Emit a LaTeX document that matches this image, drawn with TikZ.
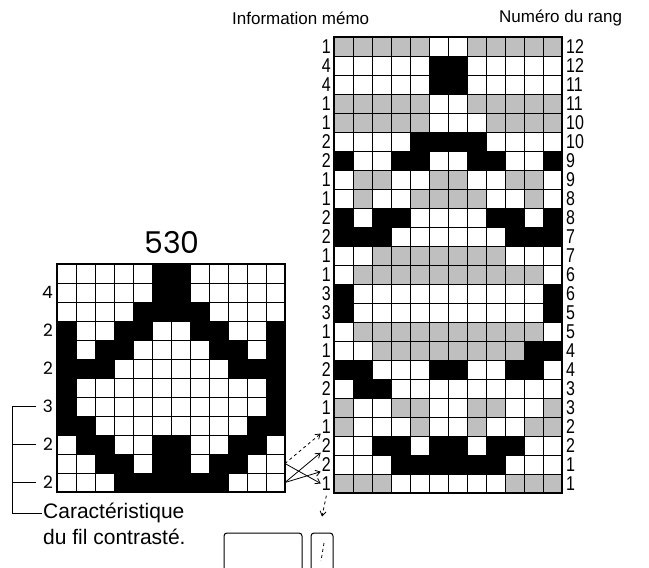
\documentclass[tikz,border=0pt]{standalone}
\usepackage{fontspec}
\setmainfont{Liberation Sans}
\newfontfamily\geofont{Poppins}
\newfontfamily\condfont[FakeStretch=0.8]{Liberation Sans}
\usetikzlibrary{arrows.meta}
\colorlet{cell0}{white}
\colorlet{cell1}{black}
\colorlet{cell2}{black!25}

\begin{document}
\begin{tikzpicture}[x=1pt, y=-1pt,
            >={Straight Barb[length=4.5pt, width=6pt]},
            cellline/.style={line width=1pt},
            frame/.style={line width=1.4pt},
            rownum/.style={font=\condfont\fontsize{20}{20}\selectfont, inner sep=0pt},
            leftnum/.style={font=\geofont\fontsize{17}{17}\selectfont, inner sep=0pt},
            heading/.style={font=\fontsize{17}{17}\selectfont, inner sep=0pt},
            caption/.style={font=\fontsize{21}{21}\selectfont, inner sep=1pt},
            bracket/.style={line width=.8pt},
            arrow/.style={->, line width=.8pt},
            keybox/.style={draw, line width=1pt, rounded corners=3pt,
                minimum height=42pt},
        ]
            \useasboundingbox (0,0) rectangle (649,568);
            \clip (0,0) rectangle (649,568);

            % motif 530
            \begin{scope}[shift={(57,264)}]
                \foreach \rowdata [count=\r from 0] in {
                    {0,0,0,0,0,1,1,0,0,0,0,0},
                    {0,0,0,0,0,1,1,0,0,0,0,0},
                    {0,0,0,0,1,1,1,1,0,0,0,0},
                    {1,0,0,1,1,0,0,1,1,0,0,1},
                    {1,0,1,1,0,0,0,0,1,1,0,1},
                    {1,1,1,0,0,0,0,0,0,1,1,1},
                    {1,0,0,0,0,0,0,0,0,0,0,1},
                    {1,0,0,0,0,0,0,0,0,0,0,1},
                    {1,1,0,0,0,0,0,0,0,0,1,1},
                    {0,1,1,0,0,1,1,0,0,1,1,0},
                    {0,0,1,1,0,1,1,0,1,1,0,0},
                    {0,0,0,1,1,1,1,1,1,0,0,0}}{
                    \foreach \v [count=\c from 0] in \rowdata
                        \fill[cell\v] (\c*19, \r*19) rectangle ++(19,19);
                }
                \foreach \i in {1,...,11} {
                    \draw[cellline] (\i*19, 0) -- (\i*19, 228);
                    \draw[cellline] (0, \i*19) -- (228, \i*19);
                }
                \draw[frame] (0,0) rectangle (228,228);
            \end{scope}

            % information memo
            \begin{scope}[shift={(334,37)}]
                \foreach \rowdata [count=\r from 0] in {
                    {2,2,2,2,2,0,0,2,2,2,2,2},
                    {0,0,0,0,0,1,1,0,0,0,0,0},
                    {0,0,0,0,0,1,1,0,0,0,0,0},
                    {2,2,2,2,2,0,0,2,2,2,2,2},
                    {2,2,2,2,2,0,0,0,2,2,2,2},
                    {0,0,0,0,1,1,1,1,0,0,0,0},
                    {1,0,0,1,1,0,0,1,1,0,0,1},
                    {0,2,2,0,0,2,2,0,0,2,2,0},
                    {0,2,0,0,2,2,2,2,0,0,2,0},
                    {1,0,1,1,0,0,0,0,1,1,0,1},
                    {1,1,1,0,0,0,0,0,0,1,1,1},
                    {0,0,2,2,2,2,2,2,2,0,0,0},
                    {0,2,2,2,2,2,2,2,2,2,2,0},
                    {1,0,0,0,0,0,0,0,0,0,0,1},
                    {1,0,0,0,0,0,0,0,0,0,0,1},
                    {0,2,2,2,2,2,2,2,2,2,2,0},
                    {0,0,2,2,2,2,2,2,2,2,1,1},
                    {1,1,0,0,0,1,1,0,0,1,1,0},
                    {0,1,1,0,0,0,0,0,0,0,0,0},
                    {2,0,0,2,2,0,0,2,2,0,0,2},
                    {2,0,0,0,2,0,0,2,0,0,2,2},
                    {0,0,1,1,0,1,1,0,1,1,0,0},
                    {0,0,0,1,1,1,1,1,1,0,0,0},
                    {2,2,2,0,0,0,0,0,0,2,2,2}}{
                    \foreach \v [count=\c from 0] in \rowdata
                        \fill[cell\v] (\c*19, \r*19) rectangle ++(19,19);
                }
                \foreach \i in {1,...,11}
                    \draw[cellline] (\i*19, 0) -- (\i*19, 456);
                \foreach \i in {1,...,23}
                    \draw[cellline] (0, \i*19) -- (228, \i*19);
                \draw[frame] (0,0) rectangle (228,456);
            \end{scope}

            % labels
            \node[heading, anchor=west] (memohead) at (232,18) {Information mémo};
            \node[heading, anchor=west] (ranghead) at (499,18) {Numéro du rang};
            \node[font=\geofont\fontsize{30}{30}\selectfont] (title) at (172,243) {530};
            \foreach \m [count=\r] in {1,4,4,1,1,2,2,1,1,2,2,1,1,3,3,1,1,2,2,1,1,2,2,1}
                \node[rownum, anchor=east] (memo\r) at (331, 37+19*\r-9.5) {\m};
            \foreach \n [count=\r] in {12,12,11,11,10,10,9,9,8,8,7,7,6,6,5,5,4,4,3,3,2,2,1,1}
                \node[rownum, anchor=west] (rang\r) at (566, 37+19*\r-9.5) {\n};
            \foreach \n/\r in {4/2, 2/4, 2/6, 3/8, 2/10, 2/12}
                \node[leftnum, anchor=east] (lab\r) at (53, 264+19*\r-9.5) {\n};

            \node[caption, anchor=west] (cap1) at (42,513) {Caractéristique};
            \node[caption, anchor=west] (cap2) at (42,537) {du fil contrasté.};

            % bracket
            \coordinate (bk) at (12,0);
            \draw[bracket] ([xshift=-7pt]lab8.west) -| (bk |- cap1.west) -- (cap1.west);
            \draw[bracket] ([xshift=-7pt]lab10.west) -- (bk |- lab10.west);
            \draw[bracket] ([xshift=-7pt]lab12.west) -- (bk |- lab12.west);

            % arrows to the memo rows
            \coordinate (rowtwo) at (285,463.5);
            \coordinate (rowone) at (285,482.5);
            \draw[arrow, dashed] (rowtwo) -- ([xshift=-1pt]memo21.south west);
            \draw[arrow] (rowone) -- ([xshift=-1pt]memo22.south west);
            \draw[arrow] (rowone) -- ([xshift=-1pt]memo23.south west);
            \draw[arrow] (rowtwo) -- ([xshift=-1pt]memo24.west);

            % display and key
            \node[keybox, minimum width=78pt] (display) at (263,554) {};
            \node[keybox, minimum width=22pt] (keyslot) at (322,554) {};
            \draw[line width=.8pt, dashed] ([shift={(2,-11)}]keyslot.center) -- ([shift={(-1,7)}]keyslot.center);
            \draw[arrow, dashed] ([yshift=-5pt]memo24.south) -- ([yshift=16pt]keyslot.north);
        \end{tikzpicture}
\end{document}
